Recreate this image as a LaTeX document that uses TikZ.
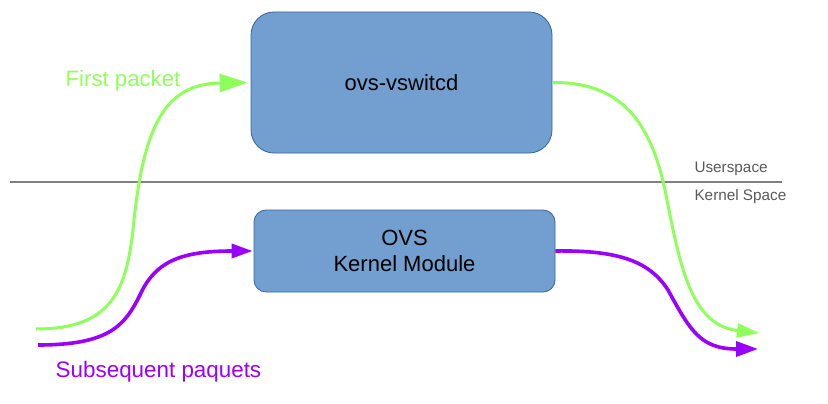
\documentclass[tikz,border=0pt]{standalone}
\usepackage{fontspec}
\setmainfont{Liberation Sans}
\usepackage{xcolor}
\usetikzlibrary{arrows.meta,positioning,calc}

\definecolor{boxFill}{HTML}{729FCF}
\definecolor{boxLine}{HTML}{3465A4}
\definecolor{firstGreen}{HTML}{8FFF5C}
\definecolor{nextPurple}{HTML}{9900FF}

\begin{document}
\begin{tikzpicture} [x=1pt, y=-1pt,
  every box/.style={draw=boxLine, fill=boxFill, line width=0.8pt, align=center, inner sep=0pt},
  firstArrow/.style={firstGreen, line width=3pt},
  nextArrow/.style={nextPurple, line width=3.6pt}]

\useasboundingbox (0,0) rectangle (828,404);

\node [every box/.try, rounded corners=23pt, minimum width=301pt, minimum height=141pt,
  font=\fontsize{22}{26}\selectfont] (switchd) at (401.5,82.5) {ovs-vswitcd};
\node [every box/.try, rounded corners=12pt, minimum width=301pt, minimum height=82pt,
  font=\fontsize{22}{26}\selectfont] (kernel) at (404.5,251) {OVS\\Kernel Module};

% user / kernel split
\coordinate (split-l) at (10,182);
\coordinate (split-r) at (782,182);
\draw [gray, line width=1.1pt] (split-l) -- (split-r);

\foreach \l/\y in {Userspace/169, Kernel Space/197}
  \node [anchor=west, text=black!65, font=\fontsize{15.3}{18}\selectfont] at (691,\y) {\l};

% free ends of the flows
\coordinate (first-in) at (36,329);
\coordinate (first-out) at (759,333);
\coordinate (next-in) at (38,345);
\coordinate (next-out) at (758,349);

% first packet goes through userspace
\draw [firstArrow, -{Triangle[length=28pt,width=18pt]}] (first-in)
  .. controls (112,329) and (126,290) .. (133,230)
  .. controls (143,125) and (165,84) .. ([xshift=-3pt]switchd.west);
\draw [firstArrow, -{Triangle[length=22pt,width=14pt]}] (switchd.east)
  .. controls (620,82) and (650,120) .. (665,190)
  .. controls (680,265) and (690,325) .. (first-out);

% subsequent packets stay in the kernel
\draw [nextArrow, -{Triangle[length=21pt,width=14pt]}] (next-in)
  .. controls (110,345) and (125,325) .. (140,295)
  .. controls (155,262) and (180,251) .. ([xshift=-1pt]kernel.west);
\draw [nextArrow, -{Triangle[length=22pt,width=15pt]}] (kernel.east)
  .. controls (620,250) and (650,262) .. (668,290)
  .. controls (690,330) and (700,349) .. (next-out);

\node [text=firstGreen, font=\fontsize{22.2}{26}\selectfont] (first-label) at (123,81) {First packet};
\node [text=nextPurple, font=\fontsize{22.4}{26}\selectfont] (next-label) at (158.5,372) {Subsequent paquets};

\end{tikzpicture}
\end{document}
